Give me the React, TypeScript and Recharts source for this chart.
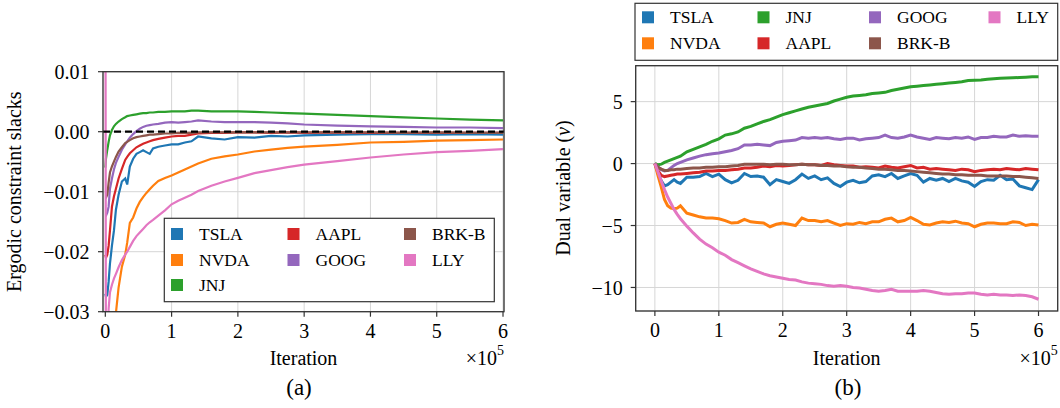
import { LineChart, Line, XAxis, YAxis, CartesianGrid, ReferenceLine } from 'recharts';

const seriesNames = ['TSLA', 'NVDA', 'JNJ', 'AAPL', 'GOOG', 'BRK-B', 'LLY'];
const seriesColors = ['#1f77b4', '#ff7f0e', '#2ca02c', '#d62728', '#9467bd', '#8c564b', '#e377c2'];

const iterTicks = [0, 1, 2, 3, 4, 5, 6];
const slackTicks = [0.01, 0, -0.01, -0.02, -0.03];
const dualTicks = [5, 0, -5, -10];

// (a) ergodic constraint slacks, iteration in units of 1e5
const slackIter = [0, 0.01, 0.03, 0.05, 0.07, 0.1, 0.13, 0.16, 0.2, 0.25, 0.3, 0.33, 0.37, 0.42, 0.47, 0.52, 0.57, 0.62, 0.67, 0.72, 0.8, 0.9, 1.0, 1.1, 1.2, 1.3, 1.4, 1.6, 1.8, 2.0, 2.25, 2.5, 2.75, 3.0, 3.5, 4.0, 4.5, 5.0, 5.5, 6.0];
const slackTSLA = [-0.027, -0.0275, -0.0272, -0.025, -0.022, -0.019, -0.0165, -0.013, -0.0105, -0.0083, -0.0078, -0.0088, -0.0058, -0.0045, -0.0037, -0.0034, -0.0031, -0.0034, -0.0037, -0.0028, -0.0025, -0.0023, -0.0021, -0.0021, -0.0018, -0.0016, -0.0008, -0.0011, -0.0013, -0.0009, -0.001, -0.0007, -0.0008, -0.0006, -0.0005, -0.0004, -0.0004, -0.0005, -0.0004, -0.0005];
const slackNVDA = [-0.06, -0.055, -0.05, -0.045, -0.041, -0.037, -0.033, -0.0302, -0.026, -0.0225, -0.0205, -0.0185, -0.0152, -0.0143, -0.0128, -0.0117, -0.0109, -0.0102, -0.0096, -0.009, -0.0082, -0.0077, -0.0073, -0.0068, -0.0063, -0.0058, -0.0053, -0.0045, -0.0041, -0.0038, -0.0033, -0.003, -0.0027, -0.0025, -0.0022, -0.0018, -0.0017, -0.0015, -0.0014, -0.0013];
const slackJNJ = [-0.006, -0.0045, -0.003, -0.0017, -0.0006, 0.0003, 0.0009, 0.0013, 0.0017, 0.0021, 0.0024, 0.0026, 0.0027, 0.0028, 0.0029, 0.003, 0.0031, 0.0031, 0.0032, 0.0032, 0.0033, 0.0033, 0.0034, 0.0034, 0.0034, 0.0035, 0.0035, 0.0034, 0.0034, 0.0034, 0.0033, 0.0032, 0.0031, 0.003, 0.0028, 0.0026, 0.0024, 0.0022, 0.002, 0.0019];
const slackAAPL = [-0.0205, -0.021, -0.0205, -0.019, -0.0165, -0.0125, -0.0108, -0.0095, -0.0078, -0.0062, -0.0047, -0.0042, -0.0036, -0.0031, -0.0026, -0.0023, -0.002, -0.0018, -0.0016, -0.0014, -0.0012, -0.001, -0.0008, -0.0007, -0.0007, -0.0005, -0.0003, -0.0002, -0.0002, -0.0001, -0.0001, -0.0002, -0.0001, -0.0002, -0.0001, -0.0002, -0.0002, -0.0002, -0.0002, -0.0002];
const slackGOOG = [-0.014, -0.014, -0.0135, -0.0125, -0.0095, -0.0078, -0.0063, -0.0052, -0.0042, -0.003, -0.0021, -0.0016, -0.001, -0.0004, 0.0001, 0.0005, 0.0008, 0.001, 0.0011, 0.0012, 0.0013, 0.0015, 0.0016, 0.0015, 0.0016, 0.0017, 0.0019, 0.0017, 0.0016, 0.0016, 0.0016, 0.0015, 0.0014, 0.0012, 0.001, 0.0009, 0.0008, 0.0007, 0.0007, 0.0006];
const slackBRKB = [-0.011, -0.011, -0.0105, -0.0085, -0.0068, -0.0058, -0.005, -0.0042, -0.0033, -0.0026, -0.0019, -0.0017, -0.0014, -0.0011, -0.0009, -0.0008, -0.0007, -0.0006, -0.0005, -0.0005, -0.0004, -0.0003, -0.0003, -0.0002, -0.0002, -0.0002, -0.0001, -0.0001, -0.0001, -0.0001, -0.0001, -0.0001, -0.0001, -0.0001, -0.0001, -0.0001, -0.0002, -0.0001, -0.0002, -0.0002];
const slackLLY = [0.05, -0.05, -0.035, -0.0295, -0.0268, -0.0255, -0.0245, -0.0237, -0.0226, -0.0214, -0.0205, -0.02, -0.0192, -0.0182, -0.0174, -0.0168, -0.0162, -0.0156, -0.0151, -0.0147, -0.014, -0.0131, -0.0121, -0.0115, -0.011, -0.0105, -0.0099, -0.009, -0.0083, -0.0077, -0.0069, -0.0064, -0.0059, -0.0055, -0.0049, -0.0043, -0.0038, -0.0034, -0.0032, -0.0029];

// (b) dual variables
const dualIter = [0, 0.05, 0.1, 0.15, 0.2, 0.25, 0.3, 0.35, 0.4, 0.5, 0.6, 0.7, 0.8, 0.9, 1.0, 1.1, 1.2, 1.3, 1.4, 1.5, 1.6, 1.7, 1.8, 1.9, 2.0, 2.1, 2.2, 2.3, 2.4, 2.5, 2.6, 2.7, 2.8, 2.9, 3.0, 3.1, 3.2, 3.3, 3.4, 3.5, 3.6, 3.7, 3.8, 3.9, 4.0, 4.1, 4.2, 4.3, 4.4, 4.5, 4.6, 4.7, 4.8, 4.9, 5.0, 5.1, 5.2, 5.3, 5.4, 5.5, 5.6, 5.7, 5.8, 5.9, 6.0];
const dualTSLA = [0, -0.8, -1.4, -1.8, -1.7, -1.5, -1.3, -1.5, -1.6, -1.1, -1.1, -1.05, -0.8, -1.05, -0.85, -1.3, -1.55, -1.35, -0.8, -1.05, -1.0, -1.1, -1.7, -1.3, -1.45, -1.6, -1.3, -0.85, -1.2, -1.0, -1.3, -1.15, -1.6, -1.85, -1.5, -1.35, -1.55, -1.45, -1.0, -0.9, -1.05, -0.8, -1.2, -1.0, -0.8, -0.95, -1.5, -1.2, -1.35, -1.2, -1.45, -1.2, -1.4, -1.5, -1.85, -1.45, -1.3, -1.35, -0.95, -1.3, -1.25, -1.8, -1.95, -2.1, -1.3];
const dualNVDA = [0, -1.0, -1.9, -2.9, -3.4, -3.6, -3.65, -3.6, -3.4, -4.0, -4.15, -4.3, -4.4, -4.4, -4.45, -4.6, -4.8, -4.75, -4.5, -4.7, -4.75, -4.8, -5.1, -4.9, -4.8, -4.9, -5.0, -4.4, -4.6, -4.6, -4.7, -4.6, -4.8, -5.0, -4.85, -4.9, -4.75, -4.85, -4.7, -4.7, -4.5, -4.4, -4.7, -4.6, -4.35, -4.6, -4.9, -4.95, -4.8, -4.7, -4.75, -4.65, -4.8, -4.85, -5.1, -4.9, -4.8, -4.8, -4.85, -4.85, -4.7, -4.75, -5.0, -4.9, -4.95];
const dualJNJ = [0, -0.1, -0.05, 0.1, 0.2, 0.3, 0.4, 0.5, 0.6, 0.95, 1.15, 1.35, 1.55, 1.8, 2.0, 2.3, 2.4, 2.55, 2.85, 3.0, 3.2, 3.4, 3.55, 3.75, 3.95, 4.1, 4.25, 4.4, 4.55, 4.65, 4.75, 4.85, 5.05, 5.2, 5.35, 5.45, 5.5, 5.55, 5.65, 5.7, 5.75, 5.9, 6.0, 6.1, 6.2, 6.25, 6.3, 6.35, 6.4, 6.45, 6.5, 6.55, 6.6, 6.7, 6.72, 6.75, 6.8, 6.85, 6.88, 6.9, 6.92, 6.95, 6.97, 7.0, 7.0];
const dualAAPL = [0, -0.6, -0.95, -1.05, -1.0, -0.95, -0.9, -0.85, -0.85, -0.8, -0.75, -0.7, -0.6, -0.6, -0.55, -0.55, -0.5, -0.45, -0.35, -0.35, -0.3, -0.2, -0.25, -0.15, -0.2, -0.15, -0.1, -0.05, -0.1, -0.1, -0.15, 0.0, -0.1, -0.15, -0.2, -0.2, -0.3, -0.25, -0.3, -0.35, -0.2, -0.3, -0.35, -0.25, -0.15, -0.35, -0.3, -0.45, -0.4, -0.45, -0.5, -0.55, -0.45, -0.5, -0.65, -0.55, -0.5, -0.45, -0.5, -0.4, -0.45, -0.5, -0.4, -0.45, -0.5];
const dualGOOG = [0, -0.3, -0.5, -0.6, -0.55, -0.35, -0.15, 0.0, 0.1, 0.3, 0.45, 0.6, 0.72, 0.8, 0.85, 0.95, 1.05, 1.2, 1.5, 1.5, 1.55, 1.5, 1.45, 1.7, 1.8, 1.85, 1.9, 2.1, 2.05, 2.1, 2.05, 2.1, 2.0, 1.95, 2.05, 2.05, 1.9, 2.0, 2.05, 2.1, 2.3, 2.1, 2.05, 2.15, 2.3, 2.15, 2.05, 1.95, 2.1, 2.05, 2.0, 2.1, 2.05, 2.15, 1.95, 2.1, 2.1, 2.2, 2.15, 2.15, 2.3, 2.2, 2.25, 2.2, 2.2];
const dualBRKB = [0, -0.3, -0.45, -0.55, -0.55, -0.5, -0.5, -0.45, -0.45, -0.4, -0.35, -0.35, -0.3, -0.3, -0.25, -0.25, -0.2, -0.15, -0.05, -0.05, -0.05, -0.05, -0.1, -0.05, -0.05, -0.1, -0.1, -0.05, -0.1, -0.1, -0.15, -0.15, -0.2, -0.2, -0.25, -0.3, -0.3, -0.35, -0.4, -0.45, -0.45, -0.5, -0.55, -0.55, -0.6, -0.65, -0.7, -0.75, -0.8, -0.85, -0.85, -0.9, -0.9, -0.95, -0.95, -0.95, -1.0, -1.0, -1.0, -1.0, -1.05, -1.05, -1.1, -1.15, -1.2];
const dualLLY = [0, -0.7, -1.4, -2.1, -2.7, -3.2, -3.7, -4.1, -4.45, -5.05, -5.6, -6.1, -6.5, -6.8, -7.15, -7.4, -7.75, -8.0, -8.25, -8.5, -8.7, -8.9, -9.05, -9.15, -9.25, -9.35, -9.4, -9.55, -9.65, -9.7, -9.75, -9.85, -9.9, -9.85, -9.9, -10.0, -10.05, -10.15, -10.25, -10.3, -10.25, -10.15, -10.3, -10.3, -10.3, -10.3, -10.25, -10.3, -10.4, -10.5, -10.55, -10.5, -10.5, -10.45, -10.45, -10.55, -10.6, -10.55, -10.6, -10.6, -10.65, -10.6, -10.65, -10.75, -10.95];

const slackSeries = [slackTSLA, slackNVDA, slackJNJ, slackAAPL, slackGOOG, slackBRKB, slackLLY];
const dualSeries = [dualTSLA, dualNVDA, dualJNJ, dualAAPL, dualGOOG, dualBRKB, dualLLY];

const toRows = (iter: number[], series: number[][]) =>
  iter.map((it, i) => {
    const row: Record<string, number> = { it };
    seriesNames.forEach((name, k) => {
      row[name] = series[k][i];
    });
    return row;
  });

const slackData = toRows(slackIter, slackSeries);
const dualData = toRows(dualIter, dualSeries);

const fmt = (v: number, digits: number) => (v < 0 ? '\u2212' : '') + Math.abs(v).toFixed(digits);

const FONT = '"Liberation Serif", "Times New Roman", serif';
const FRAME = '#333333';
const GRID = '#d6d6d6';
const tickStyle = { fontSize: 20, fill: '#000000' };
const tickLineStyle = { stroke: FRAME, strokeWidth: 1.2 };

// plot rectangles in page pixels
const plotA = { x: 103, y: 71.7, w: 401, h: 240 };
const plotB = { x: 635.7, y: 65.7, w: 422, h: 245.3 };

// legend slots (column, row) per series, matplotlib column-major fill
const legendSlotsA = [[0, 0], [0, 1], [0, 2], [1, 0], [1, 1], [2, 0], [2, 1]];
const legendSlotsB = [[0, 0], [0, 1], [1, 0], [1, 1], [2, 0], [2, 1], [3, 0]];

function Legend({ box, cols, rowY, slots }: { box: { x: number; y: number; w: number; h: number }; cols: number[]; rowY: number[]; slots: number[][] }) {
  return (
    <g>
      <rect x={box.x} y={box.y} width={box.w} height={box.h} fill="#ffffff" stroke={FRAME} strokeWidth={1.2} />
      {seriesNames.map((name, i) => {
        const cx = cols[slots[i][0]];
        const cy = rowY[slots[i][1]];
        return (
          <g key={name}>
            <rect x={cx} y={cy - 6} width={12} height={12} fill={seriesColors[i]} />
            <text x={cx + 28} y={cy + 6} fontSize={17.5} fill="#000">{name}</text>
          </g>
        );
      })}
    </g>
  );
}

export default function App() {
  return (
    <div style={{ position: 'absolute', left: 0, top: 0, width: 1060, height: 408, background: '#fff', fontFamily: FONT }}>
      <div style={{ position: 'absolute', left: 0, top: 0 }}>
        <LineChart width={520} height={408} data={slackData} margin={{ top: 71.7, right: 16, bottom: 66.3, left: 43 }}>
          <CartesianGrid stroke={GRID} strokeWidth={1} />
          <XAxis
            dataKey="it"
            type="number"
            domain={[-0.035, 6.015]}
            allowDataOverflow
            ticks={iterTicks}
            interval={0}
            height={30}
            axisLine={false}
            tickLine={tickLineStyle}
            tickSize={5}
            tickMargin={7}
            tick={tickStyle}
          />
          <YAxis
            type="number"
            domain={[-0.03, 0.01]}
            allowDataOverflow
            ticks={slackTicks}
            interval={0}
            width={60}
            axisLine={false}
            tickLine={tickLineStyle}
            tickSize={5}
            tickMargin={8.5}
            tick={tickStyle}
            tickFormatter={(v: number) => fmt(v, 2)}
          />
          {seriesNames.map((name, k) => (
            <Line key={name} type="linear" dataKey={name} stroke={seriesColors[k]} strokeWidth={2.2} dot={false} isAnimationActive={false} />
          ))}
          <ReferenceLine y={0} stroke="#000" strokeWidth={2.2} strokeDasharray="7 4" />
        </LineChart>
      </div>
      <div style={{ position: 'absolute', left: 540, top: 0 }}>
        <LineChart width={520} height={408} data={dualData} margin={{ top: 65.7, right: 2.3, bottom: 67, left: 35.7 }}>
          <CartesianGrid stroke={GRID} strokeWidth={1} />
          <XAxis
            dataKey="it"
            type="number"
            domain={[-0.3, 6.3]}
            allowDataOverflow
            ticks={iterTicks}
            interval={0}
            height={30}
            axisLine={false}
            tickLine={tickLineStyle}
            tickSize={5}
            tickMargin={7}
            tick={tickStyle}
          />
          <YAxis
            type="number"
            domain={[-11.9, 7.9]}
            allowDataOverflow
            ticks={dualTicks}
            interval={0}
            width={60}
            axisLine={false}
            tickLine={tickLineStyle}
            tickSize={5}
            tickMargin={8}
            tick={tickStyle}
            tickFormatter={(v: number) => fmt(v, 0)}
          />
          {seriesNames.map((name, k) => (
            <Line key={name} type="linear" dataKey={name} stroke={seriesColors[k]} strokeWidth={3} dot={false} isAnimationActive={false} />
          ))}
        </LineChart>
      </div>
      <svg width={1060} height={408} style={{ position: 'absolute', left: 0, top: 0, pointerEvents: 'none', fontFamily: FONT }}>
        <rect x={plotA.x} y={plotA.y} width={plotA.w} height={plotA.h} fill="none" stroke={FRAME} strokeWidth={1.3} />
        <rect x={plotB.x} y={plotB.y} width={plotB.w} height={plotB.h} fill="none" stroke={FRAME} strokeWidth={1.3} />

        <Legend box={{ x: 164.3, y: 218.3, w: 330, h: 83.4 }} cols={[171, 287.5, 404]} rowY={[234, 260, 285]} slots={legendSlotsA} />
        <Legend box={{ x: 635, y: 3.3, w: 422.7, h: 57 }} cols={[642, 757.5, 869, 988.5]} rowY={[17.3, 43.3]} slots={legendSlotsB} />

        <text x={21} y={191.7} fontSize={20} textAnchor="middle" transform="rotate(-90, 21, 191.7)">Ergodic constraint slacks</text>
        <text x={570} y={188} fontSize={20} textAnchor="middle" transform="rotate(-90, 570, 188)">
          Dual variable (<tspan fontStyle="italic">ν</tspan>)
        </text>

        <text x={303.5} y={364.7} fontSize={20} textAnchor="middle">Iteration</text>
        <text x={846.7} y={364.7} fontSize={20} textAnchor="middle">Iteration</text>

        <text x={504} y={364.7} fontSize={20} textAnchor="end">
          ×10<tspan dy={-9.5} fontSize={14}>5</tspan>
        </text>
        <text x={1057.7} y={364.7} fontSize={20} textAnchor="end">
          ×10<tspan dy={-9.5} fontSize={14}>5</tspan>
        </text>

        <text x={299} y={395} fontSize={23} textAnchor="middle">(a)</text>
        <text x={848} y={395} fontSize={23} textAnchor="middle">(b)</text>
      </svg>
    </div>
  );
}
